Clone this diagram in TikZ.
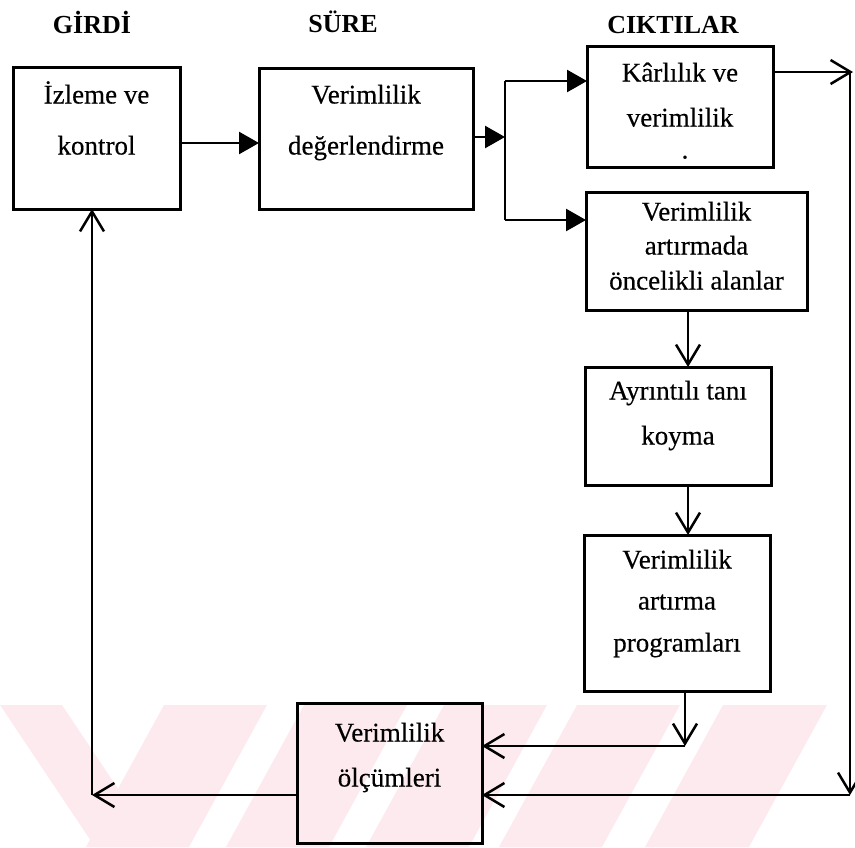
\documentclass[tikz,border=0pt]{standalone}
\usepackage{fontspec}
\setmainfont{Liberation Serif}
\newfontfamily\boxfont[FakeBold=0.35]{Liberation Serif}
\usetikzlibrary{arrows.meta}
\definecolor{wm}{RGB}{253,234,238}
\begin{document}
\begin{tikzpicture}[x=1pt,y=-1pt,
  box/.style={draw, line width=3pt, inner sep=0pt, outer sep=0pt},
  txt/.style={font=\boxfont\fontsize{27}{30}\selectfont, inner sep=0pt, text height=19pt, text depth=6pt},
  ttl/.style={font=\fontsize{26}{30}\selectfont\bfseries, inner sep=0pt},
  conn/.style={line width=2.5pt},
  solidtip/.style={-{Triangle[length=20pt,width=22pt]}},
  opentip/.style={-{Straight Barb[length=20pt,width=24pt]}}]

% page frame
\useasboundingbox (0,0) rectangle (855,847);

% faint striped band along the bottom
\begin{scope}
  \clip (0,705) rectangle (855,847);
  \fill[wm] (0,705) -- (62,705) -- (157,847) -- (95,847) -- cycle;
  \fill[wm] (164,705) -- (267,705) -- (189,847) -- (86,847) -- cycle;
  \fill[wm] (304,705) -- (407,705) -- (329,847) -- (226,847) -- cycle;
  \fill[wm] (444,705) -- (547,705) -- (469,847) -- (366,847) -- cycle;
  \fill[wm] (577,705) -- (680,705) -- (602,847) -- (499,847) -- cycle;
  \fill[wm] (723,705) -- (827,705) -- (749,847) -- (645,847) -- cycle;
\end{scope}

% column headings
\node[ttl] (hIn)  at (92,22)  {GİRDİ};
\node[ttl] (hDur) at (343,22) {SÜRE};
\node[ttl] (hOut) at (673,25) {CIKTILAR};

% boxes
\node[box, minimum width=167pt, minimum height=142pt] (b1) at (96.5,138) {};
\node[box, minimum width=214pt, minimum height=141pt] (b2) at (366,138.5) {};
\node[box, minimum width=186pt, minimum height=121pt] (b3) at (680,106.5) {};
\node[box, minimum width=221pt, minimum height=118pt] (b4) at (696.5,251) {};
\node[box, minimum width=186pt, minimum height=118pt] (b5) at (678,426) {};
\node[box, minimum width=186pt, minimum height=156pt] (b6) at (677,613) {};
\node[box, minimum width=185pt, minimum height=140pt] (b7) at (389.5,773) {};

% box texts
\node[txt] (t1a) at (96.5,97)  {İzleme ve};
\node[txt] (t1b) at (96.5,148) {kontrol};
\node[txt] (t2a) at (366,97)   {Verimlilik};
\node[txt] (t2b) at (366,148)  {değerlendirme};
\node[txt] (t3a) at (680,75)   {Kârlılık ve};
\node[txt] (t3b) at (680,120)  {verimlilik};
\node[txt] (t3c) at (685,152)  {.};
\node[txt] (t4a) at (696.5,214) {Verimlilik};
\node[txt] (t4b) at (696.5,248) {artırmada};
\node[txt] (t4c) at (696.5,283) {öncelikli alanlar};
\node[txt] (t5a) at (678,393)  {Ayrıntılı tanı};
\node[txt] (t5b) at (678,438)  {koyma};
\node[txt] (t6a) at (677,562)  {Verimlilik};
\node[txt] (t6b) at (677,603)  {artırma};
\node[txt] (t6c) at (677,645)  {programları};
\node[txt] (t7a) at (389.5,735) {Verimlilik};
\node[txt] (t7b) at (389.5,780) {ölçümleri};

% routing points
\coordinate (r12) at (0,143);
\coordinate (jn)  at (505,137);
\coordinate (jt)  at (505,81);
\coordinate (jb)  at (505,220);
\coordinate (cx)  at (688,0);
\coordinate (c6)  at (685,746);
\coordinate (rt)  at (853,72);
\coordinate (rtop) at (850,72);
\coordinate (rbot) at (850,795);
\coordinate (lb)  at (92,795);

% main flow
\draw[conn, solidtip] (b1.east |- r12) -- (b2.west |- r12);
\draw[conn, solidtip] (b2.east |- jn) -- (jn);
\draw[conn] (jt) -- (jb);
\draw[conn, solidtip] (jt) -- (b3.west |- jt);
\draw[conn, solidtip] (jb) -- (b4.west |- jb);
\draw[conn, opentip] (b4.south -| cx) -- (b5.north -| cx);
\draw[conn, opentip] (b5.south -| cx) -- (b6.north -| cx);
\draw[conn, opentip] (b6.south -| c6) -- (c6);
\draw[conn, opentip] (c6) -- (b7.east |- c6);

% feedback loops
\draw[conn, opentip] (b3.east |- rt) -- (rt);
\draw[conn, opentip] (rtop) -- (rbot);
\draw[conn, opentip] (rbot) -- (b7.east |- rbot);
\draw[conn, opentip] (b7.west |- lb) -- (lb);
\draw[conn, opentip] (lb) -- (b1.south -| lb);
\end{tikzpicture}
\end{document}
